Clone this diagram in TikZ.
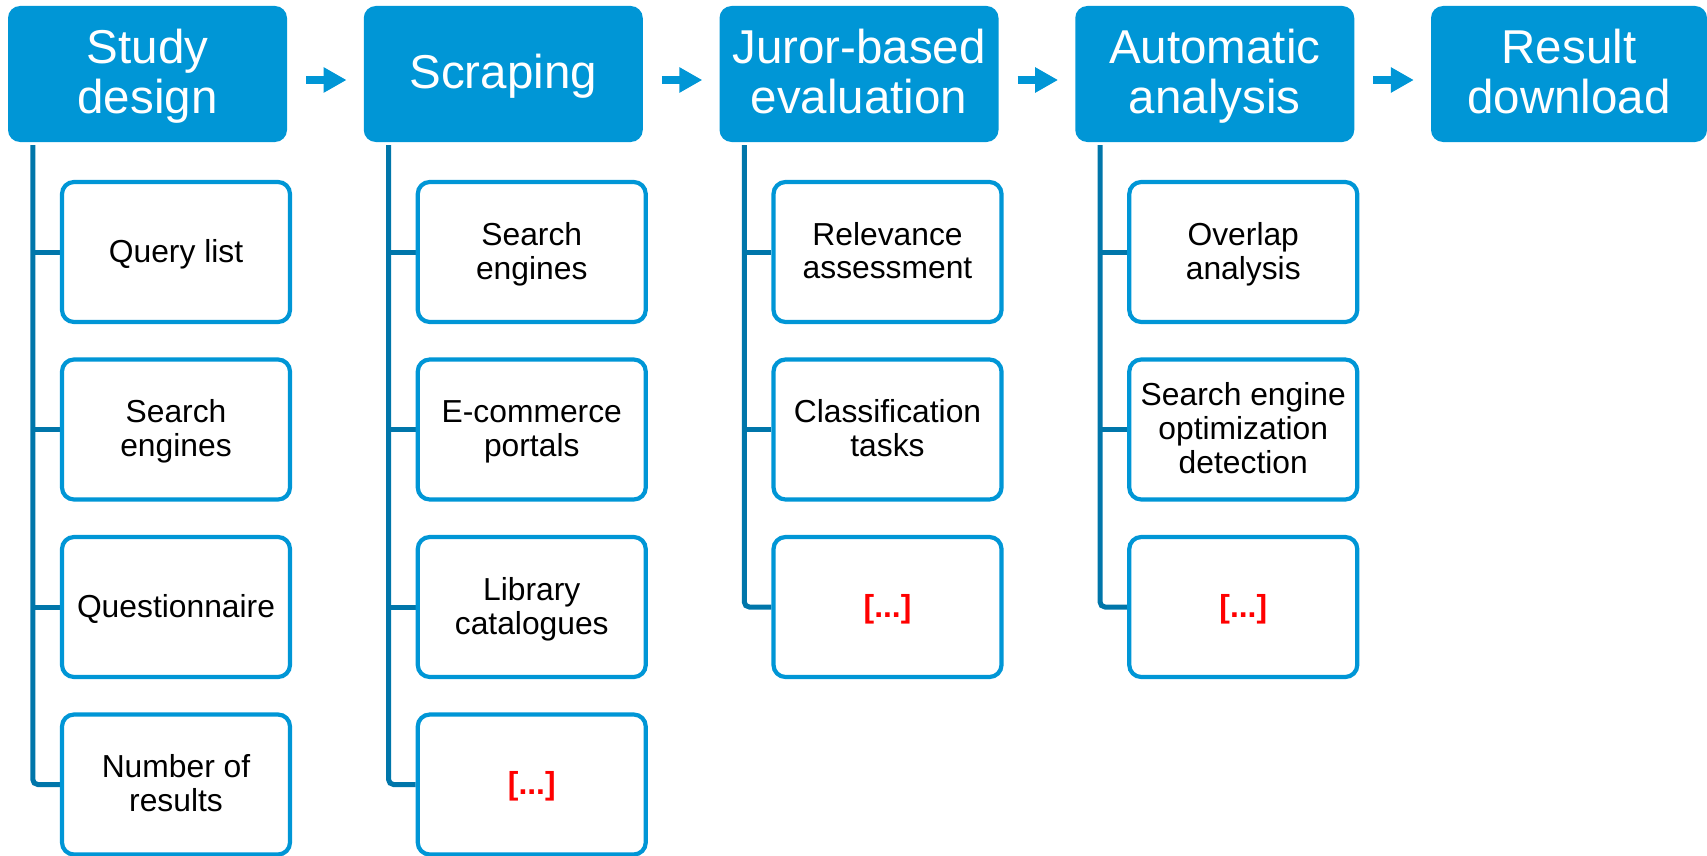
\documentclass[tikz,border=0pt]{standalone}
\usepackage{fontspec}
\setmainfont{Liberation Sans}
\usetikzlibrary{arrows.meta,backgrounds}
\definecolor{hblue}{RGB}{0,150,214}
\definecolor{tblue}{RGB}{0,118,170}
\definecolor{dotsred}{RGB}{255,0,0}
\begin{document}
\begin{tikzpicture}[x=1pt,y=-1pt,
  header/.style={fill=hblue, rounded corners=12pt, minimum width=279pt, minimum height=136pt, inner sep=0pt},
  htext/.style={text=white, align=center, inner sep=0pt, yshift=-4.4pt, font=\fontsize{47.5}{48}\selectfont},
  child/.style={draw=hblue, line width=4.2pt, fill=white, rounded corners=12pt, minimum width=228pt, minimum height=140pt, inner sep=0pt},
  ctext/.style={align=center, inner sep=0pt, yshift=-3.6pt, font=\fontsize{31.8}{32.5}\selectfont},
  dtext/.style={ctext, text=dotsred, font=\fontsize{31.8}{32.5}\selectfont\bfseries},
  trunk/.style={draw=tblue, line width=5pt, rounded corners=5pt},
  flow/.style={draw=hblue, line width=8pt, -{Triangle[length=23pt,width=24pt]}}]
\useasboundingbox (0,0) rectangle (1707,856);
% headers
\node[header, label={[htext]center:{\strut Study\\\strut design}}] (h1) at (147.5,74) {};
\node[header, label={[htext]center:{\strut Scraping}}] (h2) at (503.25,74) {};
\node[header, label={[htext]center:{\strut Juror-based\\\strut evaluation}}] (h3) at (859,74) {};
\node[header, label={[htext]center:{\strut Automatic\\\strut analysis}}] (h4) at (1214.75,74) {};
\node[header, minimum width=276pt, label={[htext]center:{\strut Result\\\strut download}}] (h5) at (1569,74) {};
% arrows
\foreach \a/\b in {h1/h2,h2/h3,h3/h4,h4/h5}
  \draw[flow] ([xshift=19pt,yshift=-6pt]\a.east) -- ([xshift=-17pt,yshift=-6pt]\b.west);
% column 1
\node[child, label={[ctext]center:{\strut Query list}}] (c11) at (176,252) {};
\node[child, label={[ctext]center:{\strut Search\\\strut engines}}] (c12) at (176,429.5) {};
\node[child, label={[ctext]center:{\strut Questionnaire}}] (c13) at (176,607) {};
\node[child, label={[ctext]center:{\strut Number of\\\strut results}}] (c14) at (176,784.5) {};
% column 2
\node[child, label={[ctext]center:{\strut Search\\\strut engines}}] (c21) at (531.75,252) {};
\node[child, label={[ctext]center:{\strut E-commerce\\\strut portals}}] (c22) at (531.75,429.5) {};
\node[child, label={[ctext]center:{\strut Library\\\strut catalogues}}] (c23) at (531.75,607) {};
\node[child, label={[dtext]center:{\strut [...]}}] (c24) at (531.75,784.5) {};
% column 3
\node[child, label={[ctext]center:{\strut Relevance\\\strut assessment}}] (c31) at (887.5,252) {};
\node[child, label={[ctext]center:{\strut Classification\\\strut tasks}}] (c32) at (887.5,429.5) {};
\node[child, label={[dtext]center:{\strut [...]}}] (c33) at (887.5,607) {};
% column 4
\node[child, label={[ctext]center:{\strut Overlap\\\strut analysis}}] (c41) at (1243.25,252) {};
\node[child, label={[ctext]center:{\strut Search engine\\\strut optimization\\\strut detection}}] (c42) at (1243.25,429.5) {};
\node[child, label={[dtext]center:{\strut [...]}}] (c43) at (1243.25,607) {};
% trunks
\coordinate (t1) at ([xshift=25pt,yshift=-3pt]h1.south west);
\coordinate (t2) at ([xshift=25pt,yshift=-3pt]h2.south west);
\coordinate (t3) at ([xshift=25pt,yshift=-3pt]h3.south west);
\coordinate (t4) at ([xshift=25pt,yshift=-3pt]h4.south west);
\begin{scope}[on background layer]
\draw[trunk] (t1) |- (c14.west);
\draw[trunk] (c11.west) -- (c11.west -| t1);
\draw[trunk] (c12.west) -- (c12.west -| t1);
\draw[trunk] (c13.west) -- (c13.west -| t1);
\draw[trunk] (t2) |- (c24.west);
\draw[trunk] (c21.west) -- (c21.west -| t2);
\draw[trunk] (c22.west) -- (c22.west -| t2);
\draw[trunk] (c23.west) -- (c23.west -| t2);
\draw[trunk] (t3) |- (c33.west);
\draw[trunk] (c31.west) -- (c31.west -| t3);
\draw[trunk] (c32.west) -- (c32.west -| t3);
\draw[trunk] (t4) |- (c43.west);
\draw[trunk] (c41.west) -- (c41.west -| t4);
\draw[trunk] (c42.west) -- (c42.west -| t4);
\end{scope}
\end{tikzpicture}
\end{document}
